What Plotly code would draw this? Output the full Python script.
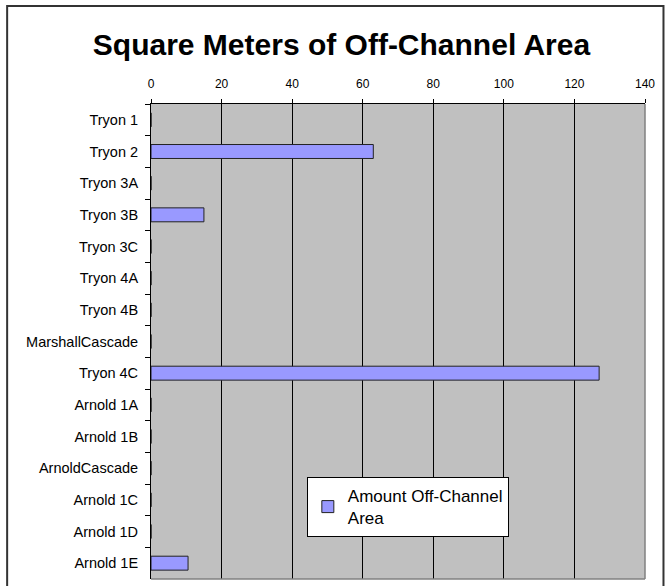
import plotly.graph_objects as go

categories = ["Tryon 1", "Tryon 2", "Tryon 3A", "Tryon 3B", "Tryon 3C", "Tryon 4A",
              "Tryon 4B", "MarshallCascade", "Tryon 4C", "Arnold 1A", "Arnold 1B",
              "ArnoldCascade", "Arnold 1C", "Arnold 1D", "Arnold 1E"]
values = [0, 63, 0, 15, 0, 0, 0, 0, 127, 0, 0, 0, 0, 0, 10.5]
series_name = "Amount Off-Channel<br>Area"
x_ticks = [0, 20, 40, 60, 80, 100, 120, 140]

FONT = "Liberation Sans, Arial, sans-serif"

fig = go.Figure()
fig.add_trace(go.Bar(
    y=categories, x=values, orientation="h", name=series_name,
    width=0.44,
    marker=dict(color="#9999FF", line=dict(color="#222222", width=1)),
    showlegend=True,
))

# plot-area layout (pixels)
L, R, T, B = 151, 645.5, 104, 579
W, H = 668, 586
pw, ph = R - L, B - T

def px_x(p):
    return (p - L) / pw

def px_y(p):
    return (B - p) / ph

fig.update_layout(
    width=W, height=H,
    margin=dict(l=L, r=W - R, t=T, b=H - B, pad=0),
    paper_bgcolor="white",
    plot_bgcolor="#C0C0C0",
    font=dict(family=FONT, color="black"),
    title=dict(text="<b>Square Meters of Off-Channel Area</b>",
               font=dict(size=30, family=FONT, color="black"),
               x=341.5 / W, xanchor="center", y=1 - 44 / H, yanchor="middle"),
    xaxis=dict(side="top", range=[0, 140], tickvals=x_ticks, ticktext=[str(v) for v in x_ticks],
               showgrid=True, gridcolor="black", gridwidth=1,
               showline=True, linecolor="black", linewidth=1,
               ticks="outside", ticklen=4, tickcolor="black",
               tickfont=dict(size=12, family=FONT), zeroline=False,
               ticklabelstandoff=6),
    yaxis=dict(autorange="reversed", tickson="boundaries", ticks="outside", ticklen=5,
               tickcolor="black", showline=True, linecolor="black", linewidth=1,
               showgrid=False, tickfont=dict(size=14.5, family=FONT),
               ticklabelstandoff=9),
    legend=dict(x=px_x(307), y=px_y(477), xanchor="left", yanchor="top",
                bgcolor="white", bordercolor="black", borderwidth=1,
                font=dict(size=17, family=FONT), itemwidth=30),
    shapes=[
        dict(type="line", xref="paper", yref="paper", x0=1, x1=1, y0=0, y1=1,
             line=dict(color="#808080", width=1.5)),
        dict(type="line", xref="paper", yref="paper", x0=0, x1=1, y0=0, y1=0,
             line=dict(color="#808080", width=1.5)),
        dict(type="rect", xref="paper", yref="paper",
             x0=px_x(7), x1=px_x(664), y0=px_y(595), y1=px_y(6),
             line=dict(color="#333333", width=2), fillcolor="rgba(0,0,0,0)", layer="below"),
    ],
)

fig.write_html("out.html", config={"displayModeBar": False},
               post_script="document.body.style.margin='0';")
